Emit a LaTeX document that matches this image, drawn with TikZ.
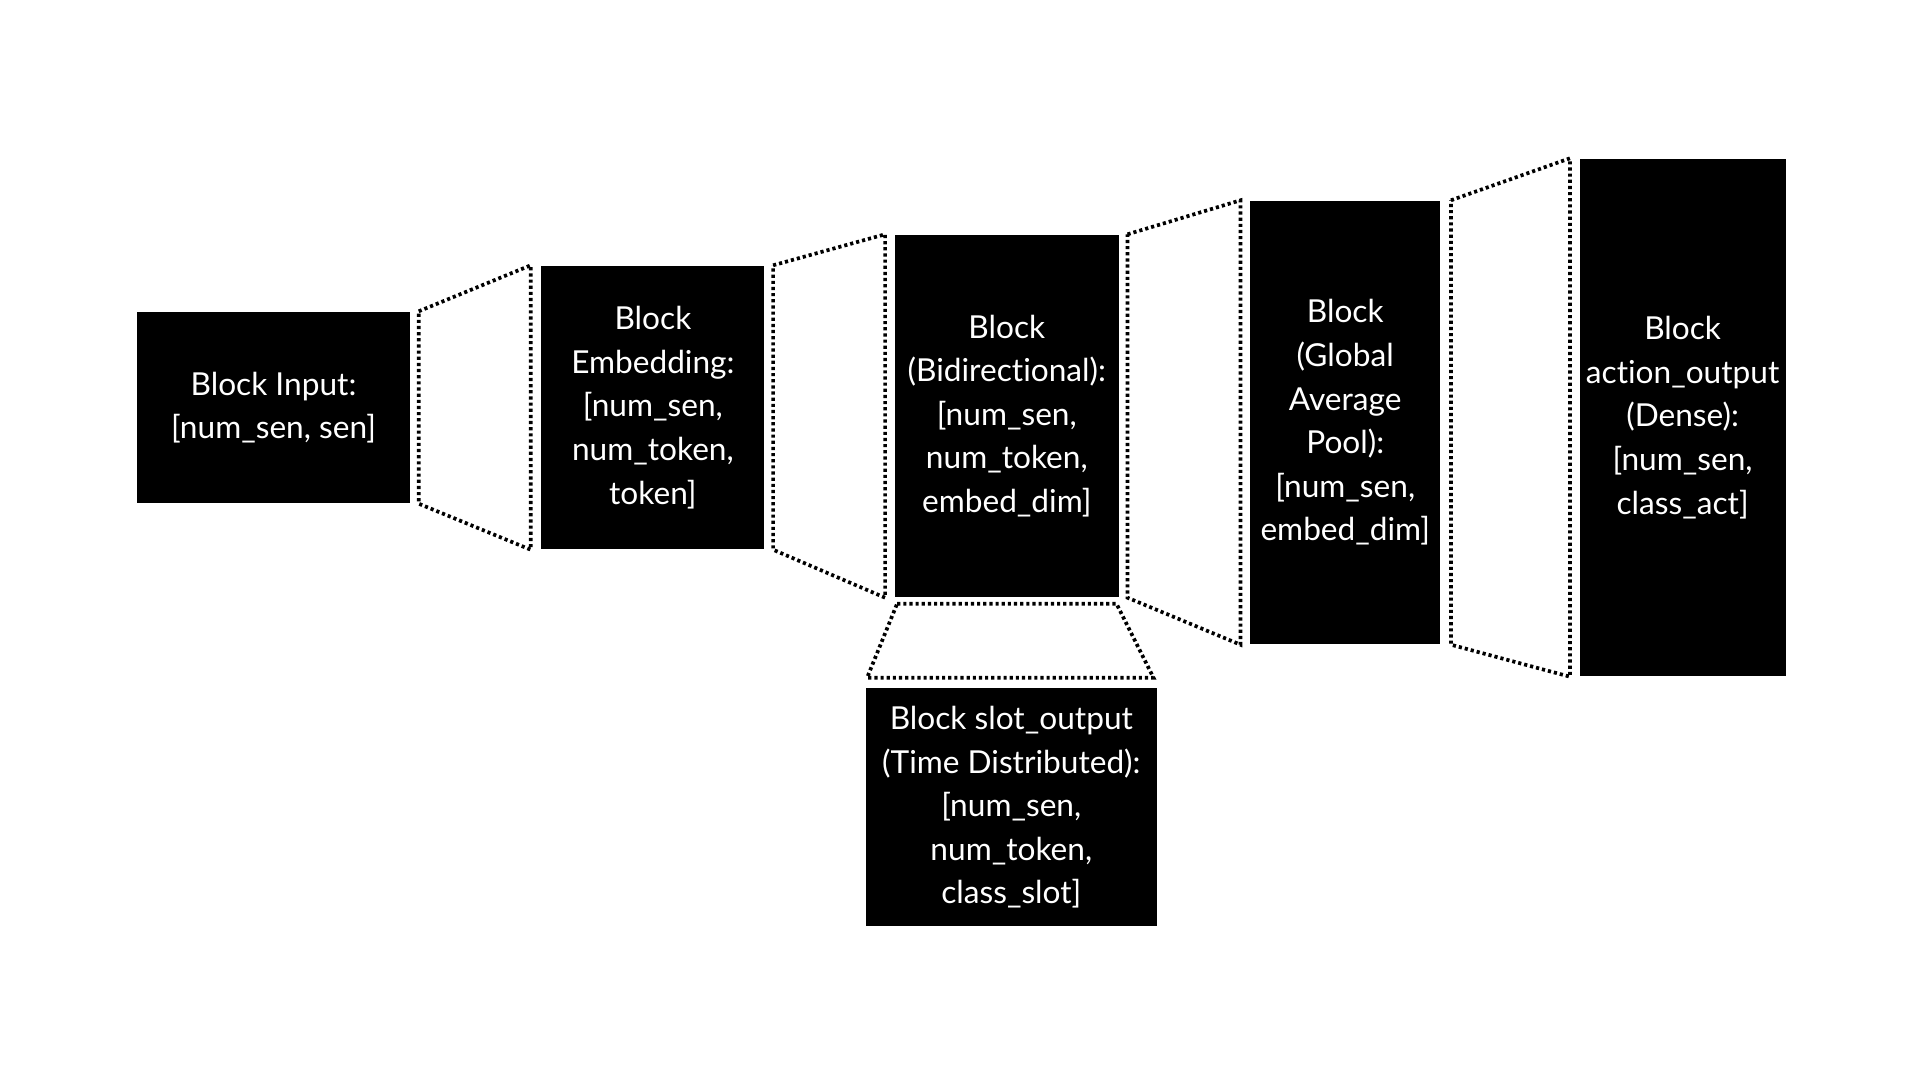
\documentclass[tikz,border=0pt]{standalone}
\usepackage{fontspec}
\setmainfont{Lato}[Ligatures=NoCommon]
\usetikzlibrary{positioning}

\begin{document}
\begin{tikzpicture}[node distance=1.30cm,
        block/.style = {rectangle, fill=black, text=white, inner sep=0pt, align=center,
                        font=\fontsize{9}{12.4}\selectfont},
        frustum/.style = {line width=1.05pt, dash pattern=on 0.9pt off 0.85pt},
        ]
        \useasboundingbox (0,0) rectangle (19.2,-10.8);
        \node [block, minimum width=2.73cm, minimum height=1.91cm] (input) at (2.735,-4.075) {Block Input:\\{}[num\_sen, sen]};
        \node [block, minimum width=2.23cm, minimum height=2.83cm, right=of input.east, anchor=west] (embed) {Block\\Embedding:\\{}[num\_sen,\\num\_token,\\token]};
        \node [block, minimum width=2.24cm, minimum height=3.62cm, right=1.29cm of embed.east, anchor=west, yshift=-0.085cm] (bidir) {Block\\(Bidirectional):\\{}[num\_sen,\\num\_token,\\embed\_dim]};
        \node [block, minimum width=1.90cm, minimum height=4.43cm, right=of bidir.east, anchor=west, yshift=-0.065cm] (pool) {Block\\(Global\\Average\\Pool):\\{}[num\_sen,\\embed\_dim]};
        \node [block, minimum width=2.06cm, minimum height=5.17cm, right=1.38cm of pool.east, anchor=west, yshift=0.05cm] (action) {Block\\action\_output\\(Dense):\\{}[num\_sen,\\class\_act]};
        \node [block, minimum width=2.91cm, minimum height=2.38cm, below=0.9cm of bidir, xshift=0.045cm] (slot) {Block slot\_output\\(Time Distributed):\\{}[num\_sen,\\num\_token,\\class\_slot]};

        % dotted frustums between the blocks
        \draw [frustum] ([xshift=0.08cm]input.north east) -- ([xshift=-0.1cm]embed.north west) -- ([xshift=-0.1cm]embed.south west) -- ([xshift=0.08cm]input.south east) -- cycle;
        \draw [frustum] ([xshift=0.08cm]embed.north east) -- ([xshift=-0.09cm]bidir.north west) -- ([xshift=-0.09cm]bidir.south west) -- ([xshift=0.08cm]embed.south east) -- cycle;
        \draw [frustum] ([xshift=0.08cm]bidir.north east) -- ([xshift=-0.09cm]pool.north west) -- ([xshift=-0.09cm]pool.south west) -- ([xshift=0.08cm]bidir.south east) -- cycle;
        \draw [frustum] ([xshift=0.1cm]pool.north east) -- ([xshift=-0.09cm]action.north west) -- ([xshift=-0.09cm]action.south west) -- ([xshift=0.1cm]pool.south east) -- cycle;
        \draw [frustum] ([shift={(0.03cm,-0.06cm)}]bidir.south west) -- ([shift={(-0.03cm,-0.06cm)}]bidir.south east) -- ([shift={(-0.04cm,0.1cm)}]slot.north east) -- ([shift={(0.02cm,0.1cm)}]slot.north west) -- cycle;
    \end{tikzpicture}
\end{document}
